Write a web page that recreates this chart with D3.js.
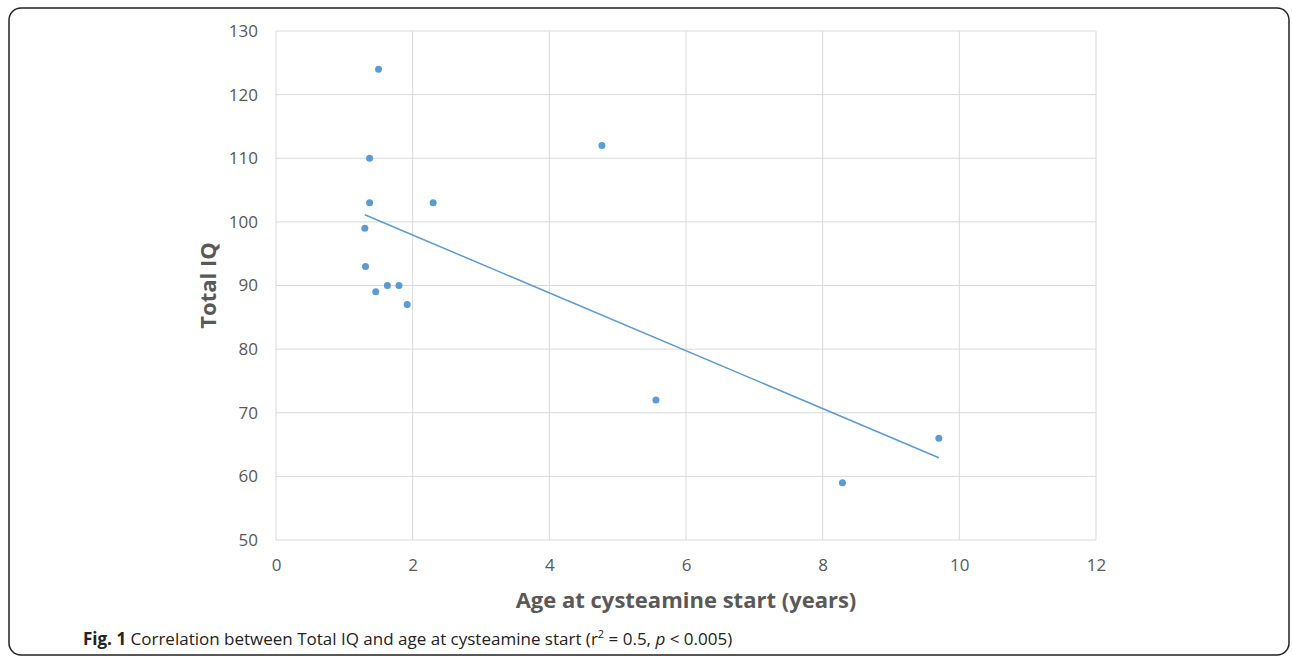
<!DOCTYPE html>
<html lang="en">
<head>
<meta charset="UTF-8">
<title>Total IQ vs age at cysteamine start</title>
<script src="https://cdn.jsdelivr.net/npm/d3@7"></script>
<style>
  body { margin: 0; background: #fff; }
  svg { display: block; }
</style>
</head>
<body>
<script>
// data
var ages = [1.50, 1.37, 1.37, 1.30, 1.31, 1.46, 1.63, 1.80, 1.92, 2.30, 4.77, 5.56, 8.29, 9.70];
var iq   = [124, 110, 103, 99, 93, 89, 90, 90, 87, 103, 112, 72, 59, 66];
var xTicks = [0, 2, 4, 6, 8, 10, 12];
var yTicks = [50, 60, 70, 80, 90, 100, 110, 120, 130];

var W = 1292, H = 658;
var pLeft = 276, pRight = 1096, pTop = 31, pBottom = 540;
var blue = "#5b9bd5", grey = "#595959";

var svg = d3.select("body").append("svg")
    .attr("width", W).attr("height", H);

// outer frame
svg.append("rect")
    .attr("x", 9).attr("y", 8)
    .attr("width", 1280).attr("height", 647)
    .attr("rx", 12)
    .attr("fill", "none")
    .attr("stroke", "#222")
    .attr("stroke-width", 1.5);

var x = d3.scaleLinear().domain([0, 12]).range([pLeft, pRight]);
var y = d3.scaleLinear().domain([50, 130]).range([pBottom, pTop]);

// grid
svg.append("g").selectAll("line").data(xTicks).enter().append("line")
    .attr("x1", function(d) { return x(d); })
    .attr("x2", function(d) { return x(d); })
    .attr("y1", pTop).attr("y2", pBottom)
    .attr("stroke", "#d9d9d9");
svg.append("g").selectAll("line").data(yTicks).enter().append("line")
    .attr("y1", function(d) { return y(d); })
    .attr("y2", function(d) { return y(d); })
    .attr("x1", pLeft).attr("x2", pRight)
    .attr("stroke", "#d9d9d9");

// axes (labels only, no tick marks)
var xAxis = svg.append("g")
    .attr("transform", "translate(0," + pBottom + ")")
    .call(d3.axisBottom(x).tickValues(xTicks).tickSize(0).tickPadding(19));
var yAxis = svg.append("g")
    .attr("transform", "translate(" + pLeft + ",0)")
    .call(d3.axisLeft(y).tickValues(yTicks).tickSize(0).tickPadding(18));
[xAxis, yAxis].forEach(function(a) {
    a.select(".domain").remove();
    a.selectAll("text")
        .attr("fill", grey)
        .style("font-family", "'Open Sans', sans-serif")
        .style("font-size", "17px");
});

// regression line
var mx = d3.mean(ages), my = d3.mean(iq);
var sxy = d3.sum(ages, function(a, i) { return (a - mx) * (iq[i] - my); });
var sxx = d3.sum(ages, function(a) { return (a - mx) * (a - mx); });
var slope = sxy / sxx, icpt = my - slope * mx;
var x0 = d3.min(ages), x1 = d3.max(ages);
svg.append("line")
    .attr("x1", x(x0)).attr("y1", y(icpt + slope * x0))
    .attr("x2", x(x1)).attr("y2", y(icpt + slope * x1))
    .attr("stroke", blue)
    .attr("stroke-width", 1.5);

// points
svg.append("g").selectAll("circle")
    .data(ages).enter().append("circle")
    .attr("cx", function(d) { return x(d); })
    .attr("cy", function(d, i) { return y(iq[i]); })
    .attr("r", 3.5)
    .attr("fill", blue);

// axis titles
svg.append("text")
    .attr("x", (pLeft + pRight) / 2).attr("y", 608)
    .attr("text-anchor", "middle")
    .attr("fill", grey)
    .style("font-family", "'Open Sans', sans-serif")
    .style("font-weight", "bold")
    .style("font-size", "22px")
    .text("Age at cysteamine start (years)");
svg.append("text")
    .attr("transform", "translate(216," + ((pTop + pBottom) / 2) + ") rotate(-90)")
    .attr("text-anchor", "middle")
    .attr("fill", grey)
    .style("font-family", "'Open Sans', sans-serif")
    .style("font-weight", "bold")
    .style("font-size", "22px")
    .text("Total IQ");

// caption
var cap = svg.append("text")
    .attr("x", 83).attr("y", 645)
    .attr("fill", "#222")
    .style("font-family", "'Open Sans', sans-serif")
    .style("font-size", "17px");
cap.append("tspan").style("font-weight", "bold").text("Fig. 1");
cap.append("tspan").text(" Correlation between Total IQ and age at cysteamine start (r");
cap.append("tspan").attr("dy", -7).style("font-size", "11px").text("2");
cap.append("tspan").attr("dy", 7).text(" = 0.5, ");
cap.append("tspan").style("font-style", "italic").text("p");
cap.append("tspan").text(" < 0.005)");
</script>
</body>
</html>
